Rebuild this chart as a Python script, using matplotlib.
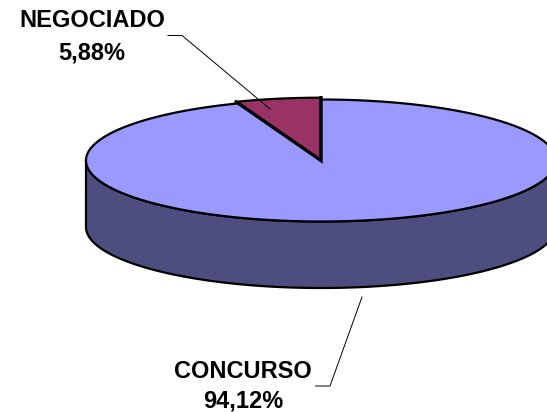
import numpy as np
import matplotlib
matplotlib.use("Agg")
import matplotlib.pyplot as plt
from matplotlib.patches import Polygon

categories = ["NEGOCIADO", "CONCURSO"]
shares = [5.88, 94.12]
share_labels = ["5,88%", "94,12%"]

W, H = 547, 412
CX, CY, RX, RY, DEPTH = 321.0, 160.5, 235.0, 61.0, 66.5
TOP = "#9999FF"
SIDE = "#4D4D80"
WEDGE = "#993366"

fig = plt.figure(figsize=(W / 100, H / 100), dpi=100, facecolor="white")
ax = fig.add_axes([0, 0, 1, 1])
ax.set_xlim(0, W)
ax.set_ylim(H, 0)
ax.axis("off")


def rim(a0, a1, dy=0.0, n=300):
    """Ellipse points; angle is clockwise from 12 o'clock, in degrees."""
    t = np.radians(np.linspace(a0, a1, n))
    return np.column_stack([CX + RX * np.sin(t), CY + dy - RY * np.cos(t)])


LW = 1.6
# side wall (front half)
front = rim(90, 270)
wall = np.vstack([front, (front + [0, DEPTH])[::-1]])
ax.add_patch(Polygon(wall, closed=True, fc=SIDE, ec="black", lw=LW, joinstyle="round", zorder=1))

# top ellipse
ax.add_patch(Polygon(rim(0, 360), closed=True, fc=TOP, ec="black", lw=LW, zorder=2))

# small wedge, starting at 12 o'clock and going counter-clockwise
sweep = shares[0] / sum(shares) * 360
wedge = np.vstack([[[CX, CY]], rim(-sweep, 0, dy=-1.8, n=40)])
ax.add_patch(Polygon(wedge, closed=True, fc=WEDGE, ec="black", lw=1.6, joinstyle="miter", zorder=3))
# heavier straight edges of the wedge
ax.plot(wedge[[1, 0, -1], 0], wedge[[1, 0, -1], 1], color="black", lw=2.4,
        solid_joinstyle="miter", zorder=3.5)

# leader lines
ax.plot([168, 182, 270], [35.5, 35.5, 109], color="black", lw=0.7, zorder=4)
ax.plot([315.5, 330, 362], [386, 386, 297], color="black", lw=0.7, zorder=4)

font = dict(family="Liberation Sans", fontweight="bold", fontsize=17.0,
            ha="center", va="baseline", color="black", zorder=5)
ax.text(92, 26.5, categories[0], **font)
ax.text(92, 59.5, share_labels[0], **font)
ax.text(243, 378, categories[1], **font)
ax.text(243.5, 407.5, share_labels[1], **font)

fig.savefig("out.png", dpi=100, facecolor="white")
